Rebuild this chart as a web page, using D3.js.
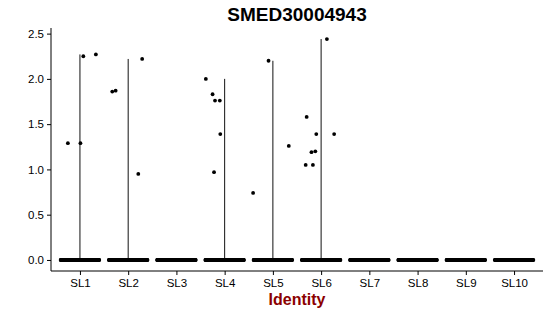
<!DOCTYPE html>
<html>
<head>
<meta charset="utf-8">
<script src="https://cdn.jsdelivr.net/npm/d3@7"></script>
<style>
  html, body { margin: 0; padding: 0; background: #fff; }
  svg { display: block; font-family: "Liberation Sans", Arial, Helvetica, sans-serif; }
</style>
</head>
<body>
<svg id="chart" width="550" height="316"></svg>
<script>
// ---- data ----
const title = "SMED30004943";
const xLabel = "Identity";
const categories = ["SL1", "SL2", "SL3", "SL4", "SL5", "SL6", "SL7", "SL8", "SL9", "SL10"];
const yTicks = [0.0, 0.5, 1.0, 1.5, 2.0, 2.5];
// cells with zero expression per cluster (drawn as a jittered band at 0)
const zeroCounts = [160, 160, 160, 160, 160, 160, 160, 160, 160, 120];
// non-zero expressing cells: cluster, value, jitter offset (in category units)
const expCluster = ["SL1","SL1","SL1","SL1",
                    "SL2","SL2","SL2","SL2",
                    "SL4","SL4","SL4","SL4","SL4","SL4",
                    "SL5","SL5","SL5",
                    "SL6","SL6","SL6","SL6","SL6","SL6","SL6","SL6"];
const expValue   = [1.29, 1.29, 2.25, 2.27,
                    1.86, 1.87, 0.95, 2.22,
                    2.00, 1.83, 1.76, 1.76, 1.39, 0.97,
                    0.74, 2.20, 1.26,
                    2.44, 1.58, 1.39, 1.39, 1.20, 1.19, 1.05, 1.05];
const expJitter  = [-0.25, 0.01, 0.07, 0.33,
                    -0.33, -0.26, 0.21, 0.29,
                    -0.39, -0.25, -0.20, -0.10, -0.09, -0.22,
                    -0.41, -0.09, 0.33,
                    0.12, -0.30, -0.10, 0.27, -0.12, -0.20, -0.32, -0.17];

// ---- layout ----
const svg = d3.select("#chart");
const mLeft = 51, mRight = 543, mTop = 28, mBottom = 271;

const maxVal = d3.max(expValue);
const yMin = 0, yMax = maxVal;
const pad = (yMax - yMin) * 0.05;
const y = d3.scaleLinear().domain([yMin - pad, yMax + pad]).range([mBottom, mTop]);

// discrete scale with ggplot-like 0.6 expansion
const n = categories.length;
const xCont = d3.scaleLinear().domain([0.4, n + 0.6]).range([mLeft, mRight]);
const x = c => xCont(categories.indexOf(c) + 1);
const unit = xCont(2) - xCont(1);

// violins (trimmed, negligible width -> vertical line from min to max)
const violinData = categories.map(c => {
  const vals = expValue.filter((v, i) => expCluster[i] === c);
  return { c, max: vals.length ? d3.max(vals) : 0 };
}).filter(d => d.max > 0);

svg.append("g").selectAll("line").data(violinData).join("line")
  .attr("x1", d => x(d.c)).attr("x2", d => x(d.c))
  .attr("y1", y(0)).attr("y2", d => y(d.max))
  .attr("stroke", "#111").attr("stroke-width", 1);

// zero band points
const zeroPts = [];
categories.forEach((c, ci) => {
  const k = zeroCounts[ci];
  for (let j = 0; j < k; j++) {
    zeroPts.push({ c, off: -0.4 + 0.8 * j / (k - 1) });
  }
});
svg.append("g").selectAll("circle").data(zeroPts).join("circle")
  .attr("cx", d => x(d.c) + d.off * unit)
  .attr("cy", y(0))
  .attr("r", 1.9)
  .attr("fill", "#000");

// expressing points
svg.append("g").selectAll("circle").data(expValue).join("circle")
  .attr("cx", (v, i) => x(expCluster[i]) + expJitter[i] * unit)
  .attr("cy", v => y(v))
  .attr("r", 1.9)
  .attr("fill", "#000");

// axes
const yAxis = d3.axisLeft(y).tickValues(yTicks).tickFormat(d3.format(".1f")).tickSize(4).tickPadding(3);
const gy = svg.append("g").attr("transform", `translate(${mLeft},0)`).call(yAxis);
gy.select(".domain").attr("d", `M0,${mTop}V${mBottom}`).attr("stroke", "#000").attr("stroke-width", 1);

const xAxisScale = d3.scalePoint().domain(categories).range([x(categories[0]), x(categories[n - 1])]);
const xAxis = d3.axisBottom(xAxisScale).tickSize(4).tickPadding(4);
const gx = svg.append("g").attr("transform", `translate(0,${mBottom})`).call(xAxis);
gx.select(".domain").attr("d", `M${mLeft},0H${mRight}`).attr("stroke", "#000").attr("stroke-width", 1);

[gx, gy].forEach(g => {
  g.selectAll(".tick line").attr("stroke", "#000");
  g.selectAll(".tick text").attr("fill", "#000").style("font-size", "11.5px")
    .style("font-family", "'Liberation Sans', Arial, sans-serif");
});

// title
svg.append("text")
  .attr("x", (mLeft + mRight) / 2).attr("y", 21)
  .attr("text-anchor", "middle")
  .style("font-size", "19px").style("font-weight", "bold").attr("fill", "#000")
  .text(title);

// x label
svg.append("text")
  .attr("x", (mLeft + mRight) / 2).attr("y", 305)
  .attr("text-anchor", "middle")
  .style("font-size", "16px").style("font-weight", "bold").attr("fill", "#8B0000")
  .text(xLabel);
</script>
</body>
</html>
